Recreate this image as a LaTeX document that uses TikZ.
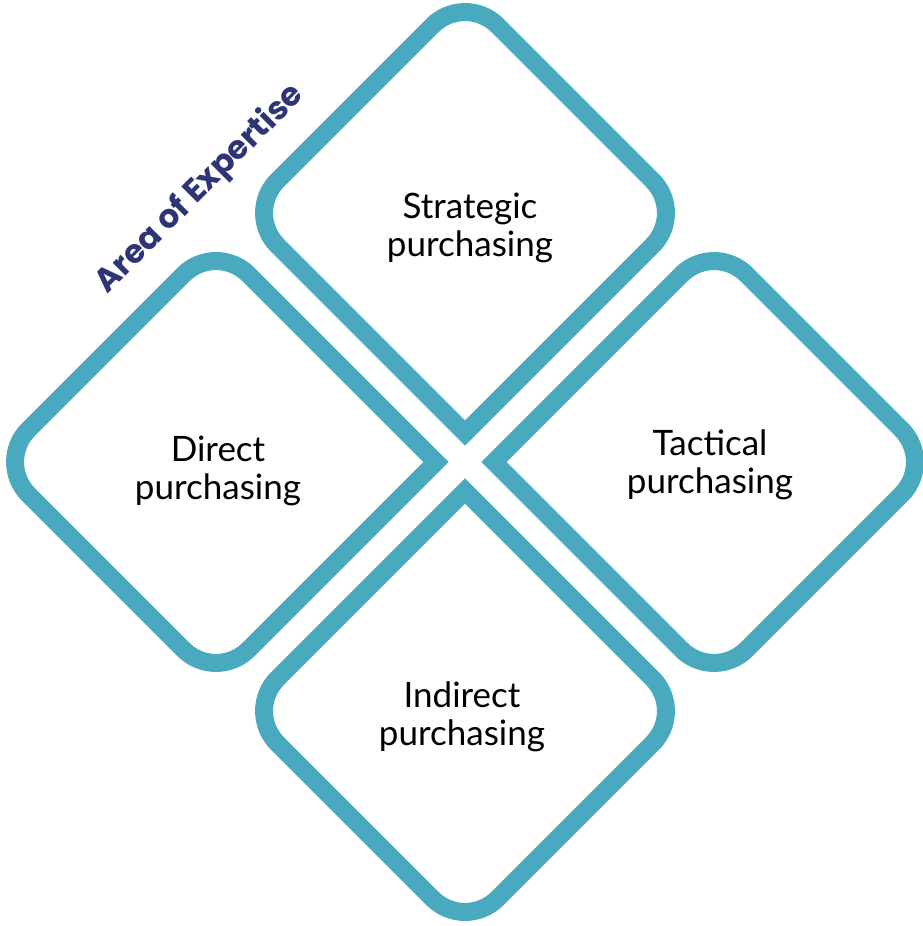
\documentclass[tikz,border=0pt]{standalone}
\usepackage{fontspec}
\setmainfont{Lato}
\newfontfamily\titlefont{Poppins}
\definecolor{teal1}{HTML}{49A9BE}
\definecolor{navy1}{HTML}{2E3577}
\begin{document}
\begin{tikzpicture}[x=1pt,y=1pt,
  petal/.style={draw=teal1,line width=18pt,line join=miter},
  lbl/.style={align=center,font=\fontsize{35}{38}\selectfont,text=black,inner sep=0pt}]
\useasboundingbox (0,0) rectangle (923,-926);
\def\petalpath{(0,-220) -- (187.47,-32.53) arc[start angle=-45,end angle=45,radius=46] -- (32.53,187.47) arc[start angle=45,end angle=135,radius=46] -- (-187.47,32.53) arc[start angle=135,end angle=225,radius=46] -- cycle}
% top
\begin{scope}[shift={(465,-213)}]
  \draw[petal] \petalpath;
\end{scope}
% left
\begin{scope}[shift={(216,-462)},rotate=90]
  \draw[petal] \petalpath;
\end{scope}
% right
\begin{scope}[shift={(714,-462)},rotate=-90]
  \draw[petal] \petalpath;
\end{scope}
% bottom
\begin{scope}[shift={(465,-711)},rotate=180]
  \draw[petal] \petalpath;
\end{scope}
\node[lbl] (strat) at (470,-228) {Strategic\\purchasing};
\node[lbl] (direct) at (218,-471) {Direct\\purchasing};
\node[lbl] (tact) at (710,-465) {Tactical\\purchasing};
\node[lbl] (indir) at (462,-717) {Indirect\\purchasing};
\node[rotate=45,text=navy1,font=\titlefont\bfseries\fontsize{32.5}{36}\selectfont,inner sep=0pt] (area) at (200,-189) {Area of Expertise};
\end{tikzpicture}
\end{document}
